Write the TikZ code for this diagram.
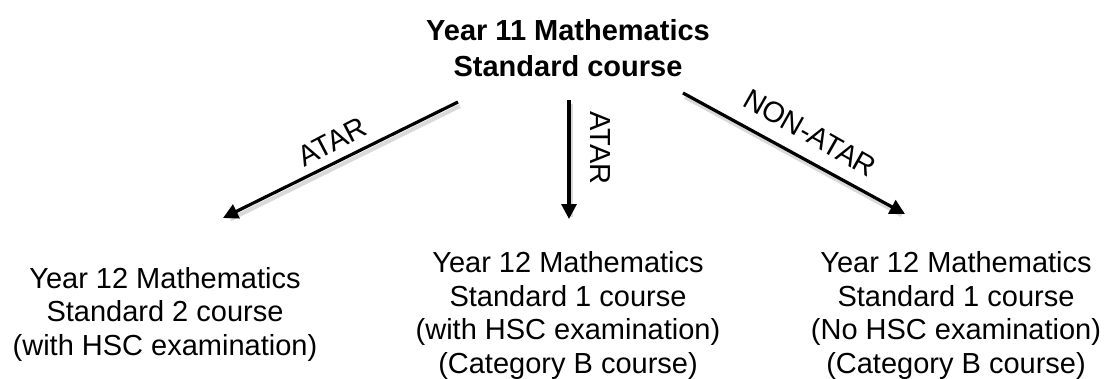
\documentclass[tikz,border=0pt]{standalone}
\usepackage{fontspec}
\setmainfont{Liberation Sans}
\usetikzlibrary{arrows.meta}
\begin{document}
\begin{tikzpicture}[x=1pt,y=-1pt,
  title/.style={font=\fontsize{29}{36}\selectfont\bfseries, align=center, inner sep=0pt},
  course/.style={font=\fontsize{29}{33.5}\selectfont, align=center, inner sep=0pt},
  lbl/.style={font=\fontsize{29}{33}\selectfont, inner sep=0pt},
  flow/.style={line width=3.2pt, -{Triangle[length=15pt,width=15pt]}},
  shade/.style={line width=4pt, black!15, shorten >=6pt}
]
\useasboundingbox (0,0) rectangle (1107,378);
\node[title, anchor=base] (top) at (568,76) {Year 11 Mathematics\\Standard course};
\node[course, anchor=base] (c2) at (165,355) {Year 12 Mathematics\\Standard 2 course\\(with HSC examination)};
\node[course, anchor=base] (c1h) at (568,373) {Year 12 Mathematics\\Standard 1 course\\(with HSC examination)\\(Category B course)};
\node[course, anchor=base] (c1n) at (956,373) {Year 12 Mathematics\\Standard 1 course\\(No HSC examination)\\(Category B course)};
\coordinate (s1) at (458,102);
\coordinate (e1) at (223,218);
\coordinate (s2) at (569,100);
\coordinate (e2) at (569,219);
\coordinate (s3) at (683,93);
\coordinate (e3) at (905,214);
\draw[shade] ([shift={(2,4)}]s1) -- ([shift={(2,4)}]e1);
\draw[shade] ([shift={(2,4)}]s2) -- ([shift={(2,4)}]e2);
\draw[shade] ([shift={(2,4)}]s3) -- ([shift={(2,4)}]e3);
\draw[flow] (s1) -- (e1);
\draw[flow] (s2) -- (e2);
\draw[flow] (s3) -- (e3);
\node[lbl, rotate=27.5] (l1) at (332,142) {ATAR};
\node[lbl, rotate=-90] (l2) at (600,148) {ATAR};
\node[lbl, rotate=-29.5] (l3) at (810,133) {NON-ATAR};
\end{tikzpicture}
\end{document}
